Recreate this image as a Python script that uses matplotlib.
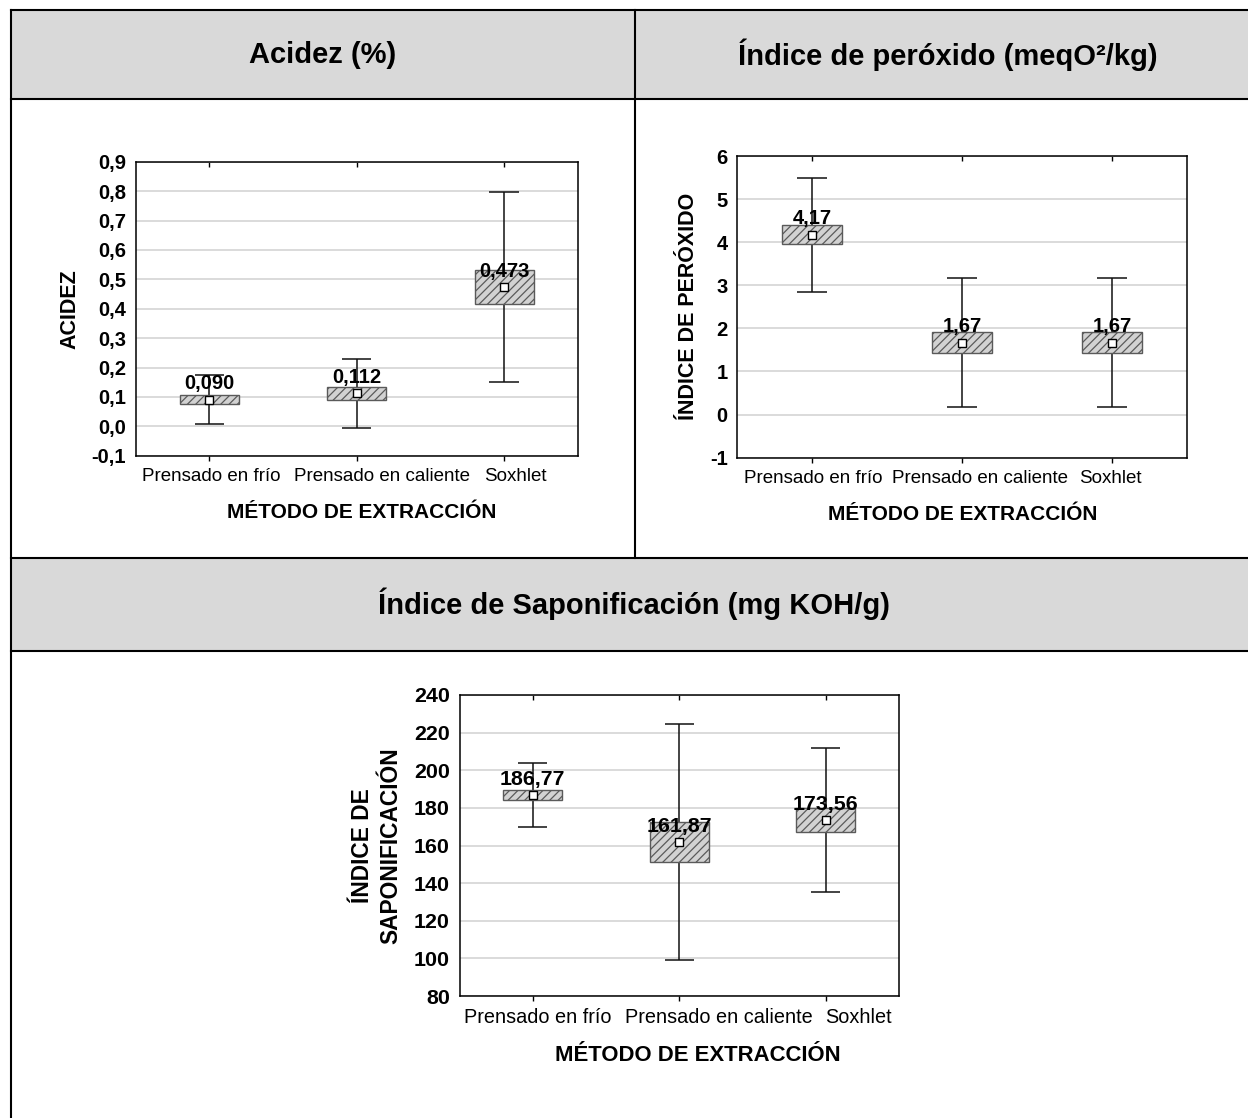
import matplotlib
matplotlib.use("Agg")
import matplotlib.pyplot as plt
from matplotlib.lines import Line2D, TICKDOWN
from matplotlib.patches import Rectangle
from matplotlib.ticker import FuncFormatter, MultipleLocator
from matplotlib.transforms import ScaledTranslation

plt.rcParams['font.family'] = ['Liberation Sans', 'DejaVu Sans']
plt.rcParams['hatch.linewidth'] = 0.9

# ---- data -------------------------------------------------------------
methods = ["Prensado en frío", "Prensado en caliente", "Soxhlet"]

acidez_mean = [0.090, 0.112, 0.473]
acidez_se = [0.015, 0.021, 0.057]
acidez_ci = [0.083, 0.117, 0.324]

perox_mean = [4.17, 1.67, 1.67]
perox_se = [0.22, 0.24, 0.24]
perox_ci = [1.33, 1.50, 1.50]

sapon_mean = [186.77, 161.87, 173.56]
sapon_se = [2.8, 10.6, 6.2]
sapon_ci = [17.2, 62.7, 38.4]

panel_titles = ["Acidez (%)", "Índice de peróxido (meqO²/kg)",
                "Índice de Saponificación (mg KOH/g)"]
x_title = "MÉTODO DE EXTRACCIÓN"

# ---- figure ---------------------------------------------------------------
W, H = 1248, 1118
DPI = 100
fig = plt.figure(figsize=(W / DPI, H / DPI), dpi=DPI)
fig.patch.set_facecolor("white")


def fx(x):
    return x / W


def fy(y):
    return 1 - y / H


def add_ax(l, t, r, b):
    return fig.add_axes([fx(l), fy(b), (r - l) / W, (b - t) / H])


# table header shading and rules
for (t, b) in [(9.5, 99), (558, 651)]:
    fig.add_artist(Rectangle((fx(11), fy(b)), fx(W) - fx(11), (b - t) / H,
                             transform=fig.transFigure, facecolor="#d9d9d9",
                             edgecolor="none", zorder=0))


def rule(x0, y0, x1, y1):
    fig.add_artist(Line2D([fx(x0), fx(x1)], [fy(y0), fy(y1)],
                          transform=fig.transFigure, color="black",
                          lw=1.5, zorder=5))


rule(11, 9.5, W, 9.5)
rule(11, 99, W, 99)
rule(11, 558, W, 558)
rule(11, 651, W, 651)
rule(11, 9.5, 11, H)
rule(635, 9.5, 635, 558)

title_kw = dict(fontsize=21, fontweight="bold", ha="center", va="center")
fig.text(fx(323), fy(55), panel_titles[0], **title_kw)
fig.text(fx(948), fy(55), panel_titles[1], **title_kw)
fig.text(fx(634), fy(604), panel_titles[2], **title_kw)


def comma(fmt):
    return FuncFormatter(lambda v, p: format(v, fmt).replace(".", ","))


def panel(ax, means, se, ci, ylim, step, tick_fmt, val_fmt, ylabel,
          label_shift, xlabel_x=0.5, scale=1.0, ylabel_pad=8):
    x = list(range(1, len(means) + 1))
    lo_w = [m - c for m, c in zip(means, ci)]
    hi_w = [m + c for m, c in zip(means, ci)]
    ax.vlines(x, lo_w, hi_w, color="#111111", lw=1.1, zorder=2)
    ax.hlines(lo_w, [v - 0.1 for v in x], [v + 0.1 for v in x],
              color="#111111", lw=1.1, zorder=2)
    ax.hlines(hi_w, [v - 0.1 for v in x], [v + 0.1 for v in x],
              color="#111111", lw=1.1, zorder=2)
    ax.bar(x, [2 * s for s in se], bottom=[m - s for m, s in zip(means, se)],
           width=0.4, color="#d2d2d2", edgecolor="#5a5a5a", hatch="////",
           lw=1.0, zorder=3)
    ax.plot(x, means, "s", mfc="white", mec="black", ms=6, mew=1.0, zorder=4)
    for xi, m in zip(x, means):
        ax.annotate(format(m, val_fmt).replace(".", ","), (xi, m),
                    xytext=(0, 7.5), textcoords="offset points",
                    ha="center", va="baseline", fontsize=14.5 * scale,
                    fontweight="bold", zorder=5)
    ax.set_xlim(0.5, len(means) + 0.5)
    ax.set_ylim(*ylim)
    ax.yaxis.set_major_locator(MultipleLocator(step))
    ax.yaxis.set_major_formatter(comma(tick_fmt))
    ax.set_xticks(x)
    ax.set_xticklabels(methods, fontsize=13.5 * scale)
    ax.tick_params(axis="x", direction="out", length=3.5, width=1,
                   pad=5, top=True)
    ax.tick_params(axis="y", length=0, pad=7)
    # top ticks point into the plot
    for tk in ax.xaxis.get_major_ticks():
        tk.tick2line.set_marker(TICKDOWN)
    # long category names are nudged sideways so they do not collide
    for lab, dx in zip(ax.get_xticklabels(), label_shift):
        lab.set_transform(lab.get_transform() +
                          ScaledTranslation(dx / DPI, 0, fig.dpi_scale_trans))
    for lab in ax.get_yticklabels():
        lab.set_fontweight("bold")
        lab.set_fontsize(14.5 * scale)
    ax.grid(axis="y", color="#d4d4d4", lw=1.2, zorder=0)
    ax.set_axisbelow(True)
    for s in ax.spines.values():
        s.set_color("black")
        s.set_linewidth(1.1)
    ax.set_xlabel(x_title, fontsize=15 * scale, fontweight="bold",
                  labelpad=13)
    ax.xaxis.label.set_x(xlabel_x)
    ax.set_ylabel(ylabel, fontsize=15.5 * scale, fontweight="bold",
                  labelpad=ylabel_pad, linespacing=1.3)


ax1 = add_ax(135.7, 161.7, 577.7, 455.7)
panel(ax1, acidez_mean, acidez_se, acidez_ci, (-0.1, 0.9), 0.1, ".1f",
      ".3f", "ACIDEZ", label_shift=[2, 25, 11], xlabel_x=0.512)

ax2 = add_ax(737.3, 156, 1187.3, 457.7)
panel(ax2, perox_mean, perox_se, perox_ci, (-1, 6), 1, ".0f",
      ".2f", "ÍNDICE DE PERÓXIDO", label_shift=[1, 18, -2])

ax3 = add_ax(459.5, 695, 899, 996)
panel(ax3, sapon_mean, sapon_se, sapon_ci, (80, 240), 20, ".0f",
      ".2f", "ÍNDICE DE\nSAPONIFICACIÓN", label_shift=[5, 40, 33],
      xlabel_x=0.543, scale=1.06)

fig.savefig("out.png", dpi=DPI, facecolor="white")
